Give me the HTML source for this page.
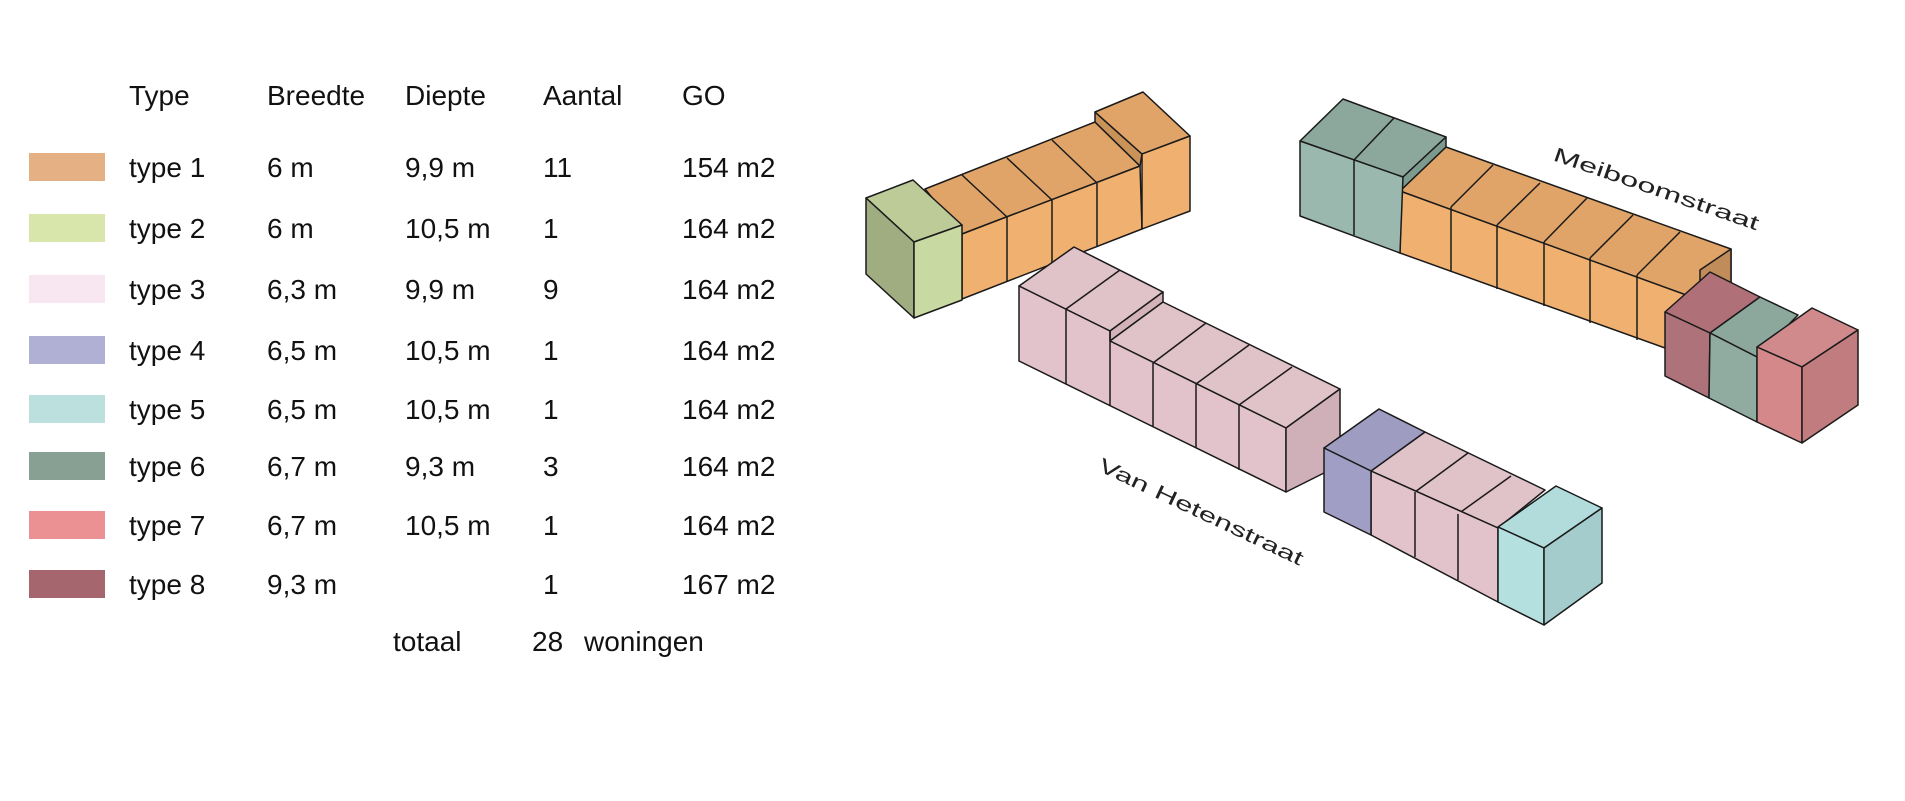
<!DOCTYPE html>
<html><head><meta charset="utf-8"><style>
html,body{margin:0;padding:0;background:#fff;width:1905px;height:801px;overflow:hidden}
svg{display:block}
text{font-family:"Liberation Sans",sans-serif;fill:#111}
.t{font-size:28px}
</style></head><body>
<svg width="1905" height="801" viewBox="0 0 1905 801" xmlns="http://www.w3.org/2000/svg">
<g class="t">
<text x="129" y="105" class="t">Type</text>
<text x="267" y="105" class="t">Breedte</text>
<text x="405" y="105" class="t">Diepte</text>
<text x="543" y="105" class="t">Aantal</text>
<text x="682" y="105" class="t">GO</text>
</g>
<g>
<rect x="29" y="153" width="76" height="28" fill="#e5b083"/>
<rect x="29" y="214" width="76" height="28" fill="#d8e5ab"/>
<rect x="29" y="275" width="76" height="28" fill="#f8e6f0"/>
<rect x="29" y="336" width="76" height="28" fill="#b0b0d4"/>
<rect x="29" y="395" width="76" height="28" fill="#bbe0dd"/>
<rect x="29" y="452" width="76" height="28" fill="#88a094"/>
<rect x="29" y="511" width="76" height="28" fill="#ec9193"/>
<rect x="29" y="570" width="76" height="28" fill="#a5676d"/>
</g>
<g class="t">
<text x="129" y="177" class="t">type 1</text><text x="267" y="177" class="t">6 m</text><text x="405" y="177" class="t">9,9 m</text><text x="543" y="177" class="t">11</text><text x="682" y="177" class="t">154 m2</text>
<text x="129" y="238" class="t">type 2</text><text x="267" y="238" class="t">6 m</text><text x="405" y="238" class="t">10,5 m</text><text x="543" y="238" class="t">1</text><text x="682" y="238" class="t">164 m2</text>
<text x="129" y="299" class="t">type 3</text><text x="267" y="299" class="t">6,3 m</text><text x="405" y="299" class="t">9,9 m</text><text x="543" y="299" class="t">9</text><text x="682" y="299" class="t">164 m2</text>
<text x="129" y="360" class="t">type 4</text><text x="267" y="360" class="t">6,5 m</text><text x="405" y="360" class="t">10,5 m</text><text x="543" y="360" class="t">1</text><text x="682" y="360" class="t">164 m2</text>
<text x="129" y="419" class="t">type 5</text><text x="267" y="419" class="t">6,5 m</text><text x="405" y="419" class="t">10,5 m</text><text x="543" y="419" class="t">1</text><text x="682" y="419" class="t">164 m2</text>
<text x="129" y="476" class="t">type 6</text><text x="267" y="476" class="t">6,7 m</text><text x="405" y="476" class="t">9,3 m</text><text x="543" y="476" class="t">3</text><text x="682" y="476" class="t">164 m2</text>
<text x="129" y="535" class="t">type 7</text><text x="267" y="535" class="t">6,7 m</text><text x="405" y="535" class="t">10,5 m</text><text x="543" y="535" class="t">1</text><text x="682" y="535" class="t">164 m2</text>
<text x="129" y="594" class="t">type 8</text><text x="267" y="594" class="t">9,3 m</text><text x="543" y="594" class="t">1</text><text x="682" y="594" class="t">167 m2</text>
<text x="393" y="651" class="t">totaal</text><text x="532" y="651" class="t">28</text><text x="584" y="651" class="t">woningen</text>
</g>

<g stroke="#1a1a1a" stroke-width="1.5" stroke-linejoin="round">
<!-- Block 1 orange -->
<polygon points="925,189 1095,122 1140,166 962,234" fill="#e0a468"/>
<polygon points="962,234 1140,166 1142,229 962,299" fill="#f0b070"/>
<line x1="962" y1="175" x2="1007" y2="217"/><line x1="1007" y1="158" x2="1052" y2="200"/><line x1="1052" y1="140" x2="1097" y2="183"/>
<line x1="1007" y1="217" x2="1007" y2="282"/><line x1="1052" y1="200" x2="1052" y2="264"/><line x1="1097" y1="183" x2="1097" y2="246"/>
<polygon points="1095,122 1095,112 1142,154 1140,166" fill="#c99258"/>
<polygon points="1095,112 1143,92 1190,136 1142,154" fill="#e0a468"/>
<polygon points="1142,154 1190,136 1190,211 1142,229" fill="#f0b070"/>
<!-- green -->
<polygon points="866,198 913,180 962,225 914,242" fill="#bccb98"/>
<polygon points="866,198 914,242 914,318 866,274" fill="#a0ad80"/>
<polygon points="914,242 962,225 962,300 914,318" fill="#c9d9a2"/>

<!-- Block 2 Meiboomstraat -->
<polygon points="1446,147 1731,249 1731,282 1690,300 1400,191" fill="#e0a468"/>
<polygon points="1731,249 1731,282 1700,300 1700,270" fill="#c08c5a"/>
<polygon points="1400,191 1700,300 1665,348 1400,253" fill="#f0b070"/>
<line x1="1493" y1="165" x2="1451" y2="207"/><line x1="1540" y1="183" x2="1497" y2="225"/><line x1="1587" y1="198" x2="1544" y2="242"/><line x1="1633" y1="215" x2="1590" y2="258"/><line x1="1680" y1="232" x2="1637" y2="275"/>
<line x1="1451" y1="207" x2="1451" y2="272"/><line x1="1497" y1="225" x2="1497" y2="289"/><line x1="1544" y1="242" x2="1544" y2="306"/><line x1="1590" y1="258" x2="1590" y2="323"/><line x1="1637" y1="275" x2="1637" y2="340"/>
<polygon points="1300,141 1343,99 1446,137 1403,177" fill="#8ca89c"/>
<line x1="1354" y1="160" x2="1394" y2="118"/>
<polygon points="1403,177 1446,137 1446,147 1400,191" fill="#7d9a8e"/>
<polygon points="1300,141 1403,177 1400,253 1300,216" fill="#9ab8ad"/>
<line x1="1354" y1="160" x2="1354" y2="235"/>
<polygon points="1665,312 1710,272 1760,297 1710,333" fill="#b07078"/>
<polygon points="1710,333 1760,297 1798,315 1757,357" fill="#8ca89c"/>
<polygon points="1665,312 1710,333 1709,398 1665,376" fill="#ad727a"/>
<polygon points="1710,333 1757,357 1757,422 1709,398" fill="#90aba0"/>
<polygon points="1757,347 1812,308 1858,330 1802,367" fill="#d08a8c"/>
<polygon points="1757,347 1802,367 1802,443 1757,422" fill="#d4888a"/>
<polygon points="1802,367 1858,330 1858,405 1802,443" fill="#c07c7e"/>

<!-- Block 3 pink -->
<polygon points="1019,286 1074,247 1163,292 1110,331" fill="#e0c2c9"/>
<line x1="1066" y1="309" x2="1120" y2="270"/>
<polygon points="1110,331 1163,292 1163,302 1110,341" fill="#d4b2ba"/>
<polygon points="1163,302 1340,389 1286,428 1110,341" fill="#e0c2c9"/>
<line x1="1206" y1="323" x2="1153" y2="363"/><line x1="1249" y1="345" x2="1196" y2="384"/><line x1="1292" y1="367" x2="1239" y2="405"/>
<polygon points="1019,286 1110,331 1110,341 1286,428 1286,492 1019,361" fill="#e2c3cb"/>
<line x1="1066" y1="309" x2="1066" y2="384"/><line x1="1110" y1="331" x2="1110" y2="406"/><line x1="1153" y1="363" x2="1153" y2="427"/><line x1="1196" y1="384" x2="1196" y2="448"/><line x1="1239" y1="405" x2="1239" y2="470"/>
<polygon points="1286,428 1340,389 1340,465 1286,492" fill="#d0b0b8"/>

<!-- Block 4 -->
<polygon points="1425,432 1545,490 1498,528 1371,471" fill="#e0c2c9"/>
<line x1="1468" y1="453" x2="1415" y2="492"/><line x1="1511" y1="476" x2="1458" y2="514"/>
<polygon points="1371,471 1498,528 1498,602 1371,535" fill="#e2c3cb"/>
<line x1="1415" y1="492" x2="1415" y2="557"/><line x1="1458" y1="514" x2="1458" y2="580"/>
<polygon points="1324,448 1379,409 1425,432 1371,471" fill="#9e9cc0"/>
<polygon points="1324,448 1371,471 1371,535 1324,512" fill="#a09ec4"/>
<polygon points="1498,527 1556,486 1602,508 1544,548" fill="#b2dcdc"/>
<polygon points="1498,527 1544,548 1544,625 1498,602" fill="#b4e0df"/>
<polygon points="1544,548 1602,508 1602,583 1544,625" fill="#a4cccc"/>
</g>

<text x="1552" y="160" font-size="20" textLength="216" lengthAdjust="spacingAndGlyphs" transform="rotate(19 1552 160)" style="font-family:'Liberation Sans',sans-serif;fill:#222">Meiboomstraat</text>
<text x="1097" y="470" font-size="20" textLength="224" lengthAdjust="spacingAndGlyphs" transform="rotate(25.3 1097 470)" style="font-family:'Liberation Sans',sans-serif;fill:#222">Van Hetenstraat</text>
</svg>
</body></html>
